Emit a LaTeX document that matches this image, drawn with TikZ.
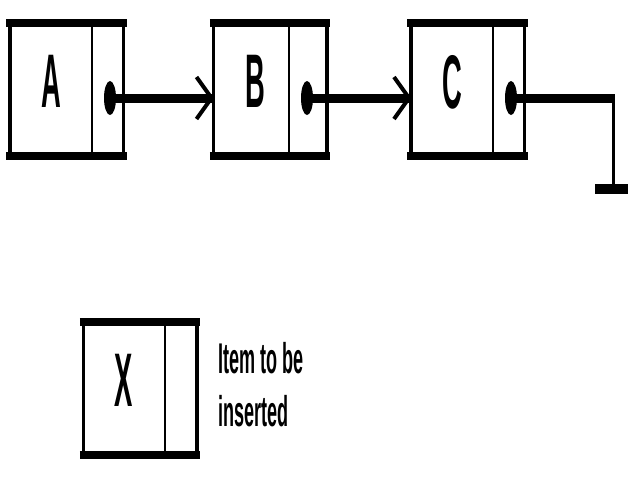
\documentclass[tikz,border=0pt]{standalone}
\usepackage{fontspec}
\setmainfont{Liberation Sans}
\usepackage{graphicx}
\begin{document}
\begin{tikzpicture}[x=1pt,y=-1pt,
  cellframe/.style={draw, line width=3.5pt, inner sep=0pt,
    minimum width=113.5pt, minimum height=129.5pt},
  cellbar/.style={line width=7.5pt, shorten <=-1.75pt, shorten >=-1.75pt},
  divider/.style={line width=1.3pt},
  letter/.style={inner sep=0pt, font=\fontsize{76}{76}\selectfont\bfseries},
  note/.style={inner sep=0pt, font=\fontsize{43}{43}\selectfont\bfseries},
  link/.style={line width=9pt},
  chevron/.style={line width=4pt, line join=round},
  stem/.style={line width=3.4pt},
  groundbar/.style={line width=10pt}
]
\useasboundingbox (0,0) rectangle (640,480);

% list cell A
\node[cellframe] (A) at (66.5,89.5) {};
\draw[cellbar] (A.north west) -- (A.north east);
\draw[cellbar] (A.south west) -- (A.south east);
\draw[divider] (A.north -| 92,0) -- (A.south -| 92,0);
\node[letter] (A-key) at (51,81) {\scalebox{0.36}[1]{A}};
\coordinate (A-ptr) at (110,98);

% list cell B
\node[cellframe] (B) at (270,89.5) {};
\draw[cellbar] (B.north west) -- (B.north east);
\draw[cellbar] (B.south west) -- (B.south east);
\draw[divider] (B.north -| 289,0) -- (B.south -| 289,0);
\node[letter] (B-key) at (255,81) {\scalebox{0.36}[1]{B}};
\coordinate (B-ptr) at (307,98);

% list cell C
\node[cellframe] (C) at (467.5,89.5) {};
\draw[cellbar] (C.north west) -- (C.north east);
\draw[cellbar] (C.south west) -- (C.south east);
\draw[divider] (C.north -| 493,0) -- (C.south -| 493,0);
\node[letter] (C-key) at (452,82) {\scalebox{0.36}[1]{C}};
\coordinate (C-ptr) at (511,98);

% cell waiting to be inserted
\node[cellframe] (X) at (140,388.5) {};
\draw[cellbar] (X.north west) -- (X.north east);
\draw[cellbar] (X.south west) -- (X.south east);
\draw[divider] (X.north -| 165,0) -- (X.south -| 165,0);
\node[letter] (X-key) at (124,380) {\scalebox{0.36}[1]{X}};
\node[note, anchor=base west] (note-1) at (218,373) {\scalebox{0.42}[1]{Item to be}};
\node[note, anchor=base west] (note-2) at (218,426) {\scalebox{0.42}[1]{inserted}};

% pointer A -> B
\draw[link] (A-ptr) -- (A-ptr -| B.west);
\draw[chevron] (A-ptr -| B.west) ++(-15,-21) -- (A-ptr -| B.west) -- ++(-15,21);
\fill (A-ptr) ellipse [x radius=6pt, y radius=17pt];

% pointer B -> C
\draw[link] (B-ptr) -- (B-ptr -| C.west);
\draw[chevron] (B-ptr -| C.west) ++(-15,-21) -- (B-ptr -| C.west) -- ++(-15,21);
\fill (B-ptr) ellipse [x radius=6pt, y radius=17pt];

% null pointer of C, ending in a ground symbol
\coordinate (C-end) at (613.3,98);
\coordinate (ground) at (613.3,189);
\draw[link] (C-ptr) -- ([xshift=1.7pt]C-end);
\draw[stem] (C-end) -- (ground);
\draw[groundbar] (ground) ++(-18,0) -- ++(33,0);
\fill (C-ptr) ellipse [x radius=6pt, y radius=17pt];
\end{tikzpicture}
\end{document}
